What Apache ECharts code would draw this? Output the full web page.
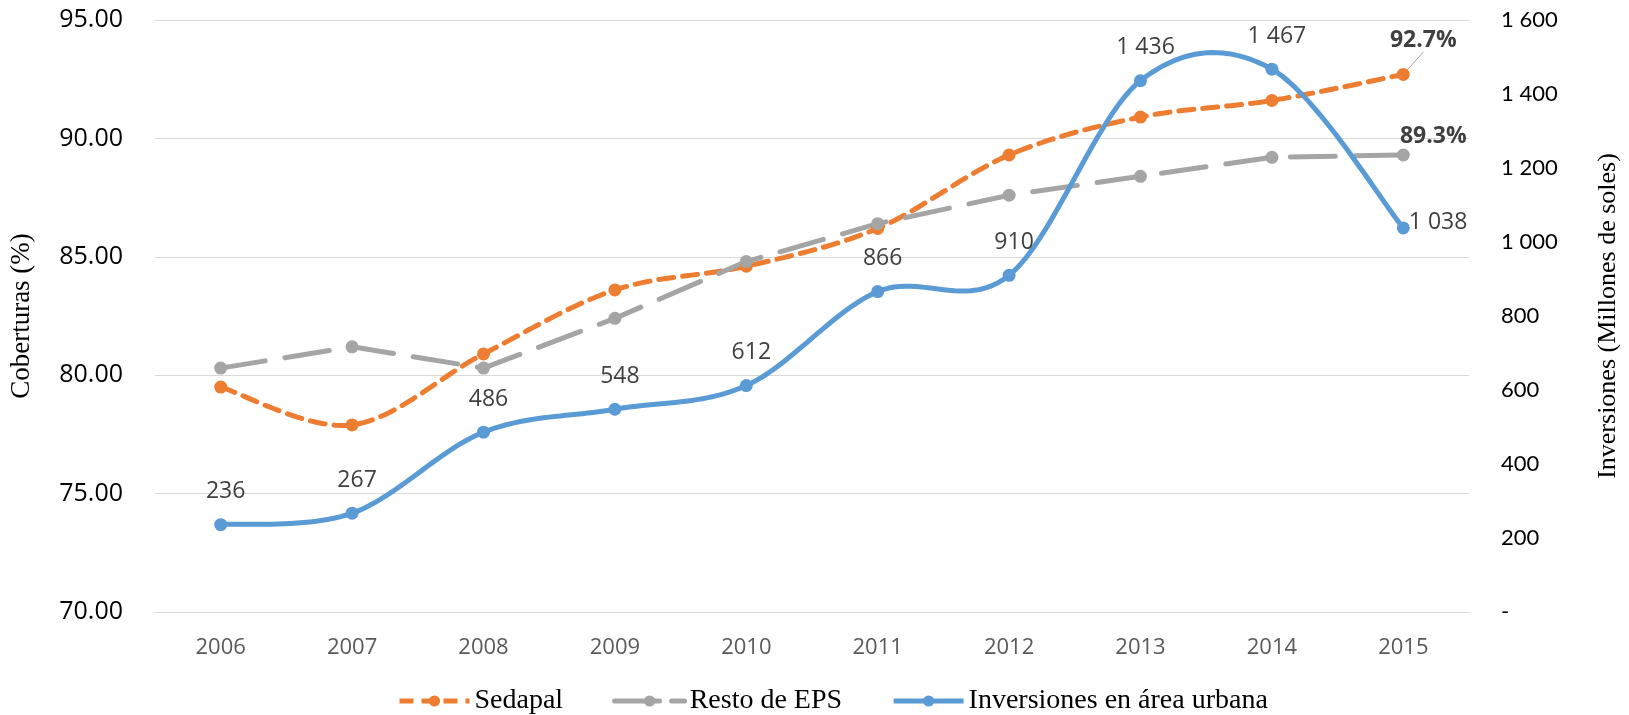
<!DOCTYPE html>
<html lang="es">
<head>
    <meta charset="UTF-8">
    <title>Coberturas e inversiones</title>
    <style>
        html, body { margin: 0; padding: 0; background: #fff; }
        #main { width: 1629px; height: 715px; }
    </style>
</head>
<body>
<div id="main"></div>
<script src="https://cdn.jsdelivr.net/npm/echarts@6/dist/echarts.min.js"></script>
<script>
    // 数据
    const years = ['2006', '2007', '2008', '2009', '2010', '2011', '2012', '2013', '2014', '2015'];
    const sedapal = [79.5, 77.9, 80.9, 83.6, 84.6, 86.2, 89.3, 90.9, 91.6, 92.7];
    const restoEps = [80.3, 81.2, 80.3, 82.4, 84.8, 86.4, 87.6, 88.4, 89.2, 89.3];
    const inversiones = [236, 267, 486, 548, 612, 866, 910, 1436, 1467, 1038];

    const serif = 'Liberation Serif';
    const sans = 'Open Sans';
    const ORANGE = '#ED7D31', GRAY = '#A5A5A5', BLUE = '#5B9BD5';

    // 1 600 形式
    function miles(v) {
        return v === 0 ? '-' : String(v).replace(/\B(?=(\d{3})+(?!\d))/g, ' ');
    }

    // Excel 式平滑线 (Catmull-Rom)，坐标由 api.coord 换算
    function smoothPath(values, style) {
        return function (params, api) {
            if (params.dataIndex !== 0) return null;
            const pts = values.map((v, i) => api.coord([i, v]));
            const out = [];
            for (let i = 0; i < pts.length - 1; i++) {
                const p0 = pts[Math.max(i - 1, 0)];
                const p1 = pts[i];
                const p2 = pts[i + 1];
                const p3 = pts[Math.min(i + 2, pts.length - 1)];
                const c1 = [p1[0] + (p2[0] - p0[0]) / 6, p1[1] + (p2[1] - p0[1]) / 6];
                const c2 = [p2[0] - (p3[0] - p1[0]) / 6, p2[1] - (p3[1] - p1[1]) / 6];
                const n = 24;
                for (let k = (i === 0 ? 0 : 1); k <= n; k++) {
                    const t = k / n, u = 1 - t;
                    out.push([
                        u * u * u * p1[0] + 3 * u * u * t * c1[0] + 3 * u * t * t * c2[0] + t * t * t * p2[0],
                        u * u * u * p1[1] + 3 * u * u * t * c1[1] + 3 * u * t * t * c2[1] + t * t * t * p2[1]
                    ]);
                }
            }
            return {
                type: 'polyline',
                shape: { points: out },
                style: Object.assign({ fill: null }, style),
                silent: true
            };
        };
    }

    const last = years.length - 1;

    const sedapalData = sedapal.map((v, i) => i === last ? {
        value: v,
        label: {
            show: true,
            position: 'top',
            fontWeight: 'bold',
            formatter: p => p.value.toFixed(1) + '%'
        }
    } : v);

    const restoData = restoEps.map((v, i) => i === last ? {
        value: v,
        label: {
            show: true,
            position: 'top',
            fontWeight: 'bold',
            offset: [30, 4],
            formatter: p => p.value.toFixed(1) + '%'
        }
    } : v);

    const invData = inversiones.map((v, i) => i === last ? {
        value: v,
        label: { position: 'right', distance: -1, offset: [0, -5] }
    } : v);

    const labelText = { fontFamily: sans, fontSize: 23, color: '#404040' };

    const myChart = echarts.init(document.getElementById('main'));
    const option = {
        animation: false,
        grid: { left: 149, right: 147, top: 20, bottom: 103, containLabel: false },
        legend: {
            left: 392,
            top: 682,
            itemWidth: 70,
            itemHeight: 14,
            itemGap: 49,
            textStyle: { fontFamily: serif, fontSize: 28, color: '#000' },
            data: [
                { name: 'Sedapal', lineStyle: { color: ORANGE, width: 5, type: [14, 8], opacity: 1 } },
                { name: 'Resto de EPS', lineStyle: { color: GRAY, width: 5, type: [45, 12], opacity: 1 } },
                { name: 'Inversiones en área urbana', lineStyle: { color: BLUE, width: 5, type: 'solid', opacity: 1 } }
            ]
        },
        xAxis: {
            type: 'category',
            data: years,
            boundaryGap: true,
            axisLine: { show: true, lineStyle: { color: '#D9D9D9', width: 1 } },
            axisTick: { show: false },
            axisLabel: { margin: 25, fontFamily: sans, fontSize: 22, color: '#595959' }
        },
        yAxis: [{
            type: 'value',
            min: 70,
            max: 95,
            interval: 5,
            name: 'Coberturas (%)',
            nameLocation: 'middle',
            nameGap: 120,
            nameTextStyle: { fontFamily: serif, fontSize: 27, color: '#000' },
            axisLine: { show: false },
            axisTick: { show: false },
            splitLine: { lineStyle: { color: '#D9D9D9', width: 1 } },
            axisLabel: {
                margin: 32,
                fontFamily: sans,
                fontSize: 25,
                color: '#000',
                formatter: v => v.toFixed(2)
            }
        }, {
            type: 'value',
            position: 'right',
            min: 0,
            max: 1600,
            interval: 200,
            name: 'Inversiones (Millones de soles)',
            nameLocation: 'middle',
            nameGap: 126,
            nameTextStyle: { fontFamily: serif, fontSize: 26, color: '#000' },
            axisLine: { show: false },
            axisTick: { show: false },
            splitLine: { show: false },
            axisLabel: {
                margin: 32,
                align: 'left',
                fontFamily: 'Lato',
                fontSize: 22,
                color: '#000',
                formatter: miles
            }
        }],
        series: [{
            type: 'custom',
            yAxisIndex: 0,
            renderItem: smoothPath(sedapal, { stroke: ORANGE, lineWidth: 5, lineDash: [15, 9], lineCap: 'round' }),
            data: sedapal.map((v, i) => [i, v]),
            z: 2
        }, {
            name: 'Sedapal',
            type: 'line',
            yAxisIndex: 0,
            symbol: 'circle',
            symbolSize: 13,
            itemStyle: { color: ORANGE },
            lineStyle: { color: ORANGE, width: 5, opacity: 0 },
            label: labelText,
            labelLayout: p => p.dataIndex === last ? { dx: 20, dy: -11 } : {},
            labelLine: { show: true, lineStyle: { color: GRAY, width: 1 } },
            data: sedapalData,
            z: 3
        }, {
            name: 'Resto de EPS',
            type: 'line',
            yAxisIndex: 0,
            symbol: 'circle',
            symbolSize: 13,
            itemStyle: { color: GRAY },
            lineStyle: { color: GRAY, width: 5, type: [45, 20], cap: 'round' },
            label: labelText,
            data: restoData,
            z: 3
        }, {
            type: 'custom',
            yAxisIndex: 1,
            renderItem: smoothPath(inversiones, { stroke: BLUE, lineWidth: 5, lineJoin: 'round' }),
            data: inversiones.map((v, i) => [i, v]),
            z: 4
        }, {
            name: 'Inversiones en área urbana',
            type: 'line',
            yAxisIndex: 1,
            symbol: 'circle',
            symbolSize: 13,
            itemStyle: { color: BLUE },
            lineStyle: { color: BLUE, width: 5, opacity: 0 },
            label: Object.assign({
                show: true,
                position: 'top',
                distance: 15,
                offset: [5, 0],
                formatter: p => miles(p.value)
            }, labelText),
            data: invData,
            z: 5
        }]
    };
    myChart.setOption(option);
</script>
</body>
</html>
